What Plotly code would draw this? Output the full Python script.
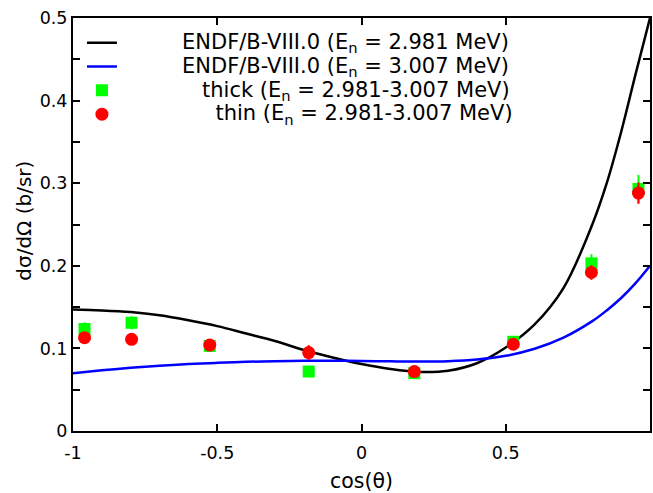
import plotly.graph_objects as go

# Evaluated angular distributions (ENDF/B-VIII.0) on a cos(theta) grid
cos_eval = [-1.0, -0.9, -0.8, -0.7, -0.6, -0.5, -0.4, -0.3, -0.2, -0.1, 0.0,
            0.1, 0.2, 0.3, 0.4, 0.5, 0.6, 0.7, 0.8, 0.85, 0.9, 0.95, 1.0]
endf_2981 = [0.147, 0.146, 0.144, 0.140, 0.134, 0.127, 0.118, 0.109, 0.098, 0.089, 0.081,
             0.075, 0.0715, 0.073, 0.082, 0.101, 0.129, 0.173, 0.250, 0.300, 0.362, 0.432, 0.500]
endf_3007 = [0.070, 0.0735, 0.0765, 0.079, 0.081, 0.0825, 0.0837, 0.0845, 0.085, 0.085, 0.0848,
             0.0843, 0.084, 0.0845, 0.0865, 0.091, 0.0995, 0.113, 0.133, 0.146, 0.161, 0.179, 0.200]

# Measured points
cos_exp = [-0.960, -0.797, -0.526, -0.183, 0.183, 0.526, 0.797, 0.960]
thick = [0.1235, 0.131, 0.103, 0.072, 0.070, 0.108, 0.203, 0.293]
thick_err = [0.008, 0.008, 0.005, 0.004, 0.004, 0.005, 0.011, 0.017]
thin = [0.113, 0.111, 0.104, 0.095, 0.072, 0.105, 0.192, 0.288]
thin_err = [0.005, 0.005, 0.005, 0.009, 0.004, 0.005, 0.009, 0.013]

x_ticks = [-1, -0.5, 0, 0.5, 1]
x_ticklabels = ["-1", "-0.5", "0", "0.5", "1"]
y_ticks = [0, 0.1, 0.2, 0.3, 0.4, 0.5]
y_ticklabels = ["0", "0.1", "0.2", "0.3", "0.4", "0.5"]

FONT = "DejaVu Sans"
NB = "\u00a0"


def legend_label(text, pad):
    # right-aligned look: leading non-breaking spaces, larger text than the row pitch
    return '<span style="font-size:21px">' + NB * pad + text + "</span>"


fig = go.Figure()
fig.add_trace(go.Scatter(
    x=cos_eval, y=endf_2981, mode="lines", line=dict(color="black", width=2.5, shape="spline"),
    name=legend_label("ENDF/B-VIII.0 (E<sub>n</sub> = 2.981 MeV)", 9)))
fig.add_trace(go.Scatter(
    x=cos_eval, y=endf_3007, mode="lines", line=dict(color="#0000ff", width=2.5, shape="spline"),
    name=legend_label("ENDF/B-VIII.0 (E<sub>n</sub> = 3.007 MeV)", 9)))
fig.add_trace(go.Scatter(
    x=cos_exp, y=thick, mode="markers",
    marker=dict(symbol="square", size=12, color="#00ff00"),
    error_y=dict(type="data", array=thick_err, color="#00ff00", thickness=2, width=0),
    name=legend_label("thick (E<sub>n</sub> = 2.981-3.007 MeV)", 12)))
fig.add_trace(go.Scatter(
    x=cos_exp, y=thin, mode="markers",
    marker=dict(symbol="circle", size=13, color="#ff0000"),
    error_y=dict(type="data", array=thin_err, color="#ff0000", thickness=2, width=0),
    name=legend_label(NB + "thin (E<sub>n</sub> = 2.981-3.007 MeV)", 13)))

axis_common = dict(
    showline=True, linecolor="black", linewidth=2, mirror="allticks",
    ticks="inside", tickcolor="black", tickwidth=1.5, ticklen=7,
    showgrid=False, zeroline=False,
    tickfont=dict(family=FONT, size=17.5, color="black"),
)

fig.update_xaxes(range=[-1, 1], tickvals=x_ticks, ticktext=x_ticklabels,
                 ticklabelstandoff=5,
                 title=dict(text="cos(θ)", font=dict(family=FONT, size=20.5, color="black"), standoff=14),
                 **axis_common)
fig.update_yaxes(range=[0, 0.5], tickvals=y_ticks, ticktext=y_ticklabels,
                 minor=dict(dtick=0.05, ticks="inside", ticklen=7, tickcolor="black", tickwidth=1.5),
                 **axis_common)

fig.add_annotation(
    text="dσ/dΩ (b/sr)", textangle=-90, xref="paper", yref="paper",
    x=-0.084, y=0.508, xanchor="center", yanchor="middle", showarrow=False,
    font=dict(family=FONT, size=20, color="black"))

fig.update_layout(
    width=653, height=493,
    margin=dict(l=73, r=1, t=18, b=62),
    paper_bgcolor="white", plot_bgcolor="white",
    font=dict(family=FONT, size=17, color="black"),
    showlegend=True,
    legend=dict(x=0.0155, y=0.981, xanchor="left", yanchor="top",
                bgcolor="rgba(0,0,0,0)", borderwidth=0,
                font=dict(family=FONT, size=16, color="black"),
                tracegroupgap=0, itemwidth=30),
)

fig.write_html("out.html")
